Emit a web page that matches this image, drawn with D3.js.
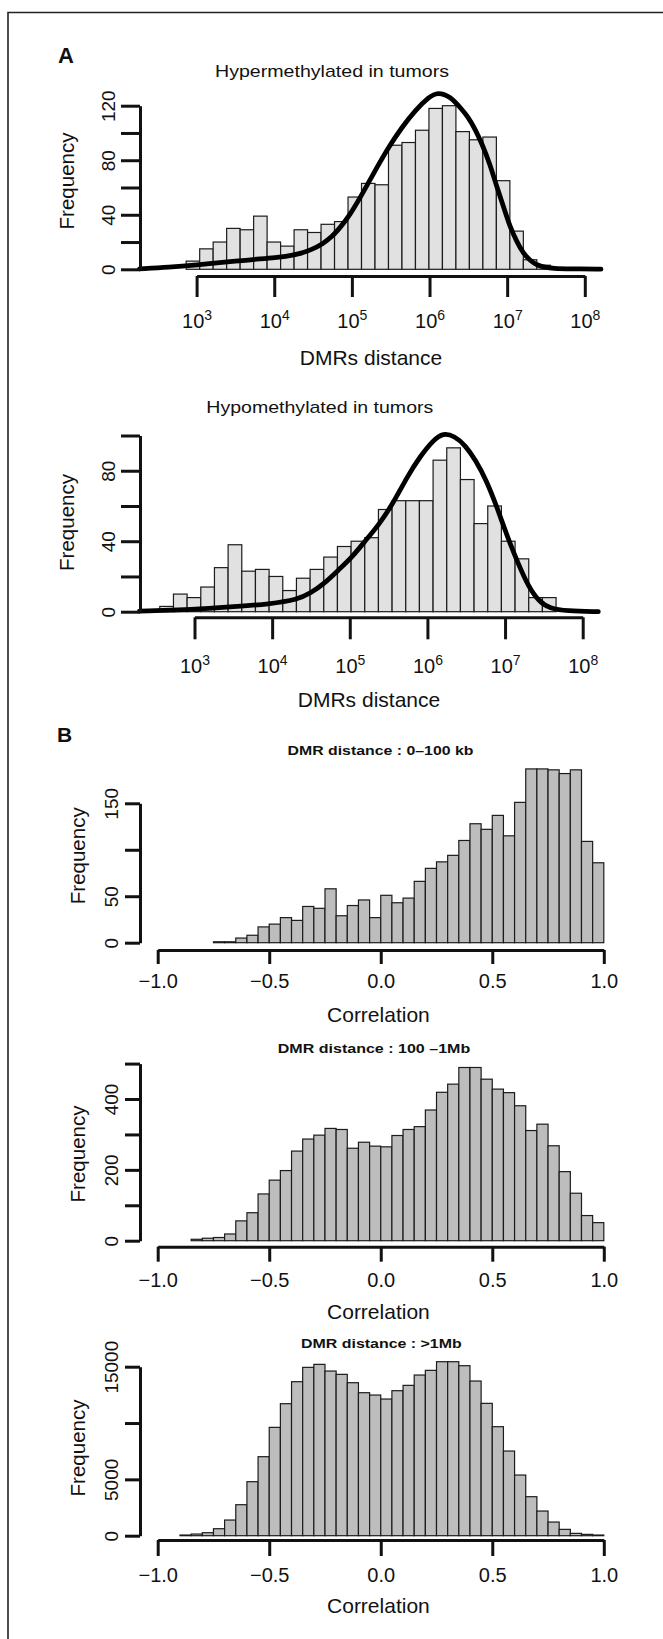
<!DOCTYPE html>
<html>
<head>
<meta charset="utf-8">
<script src="https://cdn.jsdelivr.net/npm/d3@7"></script>
<style>
  body { margin: 0; background: #fff; }
  text { font-family: "Liberation Sans", Arial, Helvetica, sans-serif; fill: #111; }
</style>
</head>
<body>
<script>
// ---- panel A : DMR distance histograms (x in log10 bp) ----
let hyperBinStart = 2.866;   // first break, log10
let hyperBinWidth = 0.1737;
let hyperCounts = [6, 15, 20, 30, 29, 39, 20, 17, 29, 27, 33, 35, 53, 63, 62, 91, 93, 102, 118, 120, 101, 95, 97, 65, 28, 7, 3];
let hyperCurveX = [2.265, 2.645, 3.0, 3.408, 3.735, 4.007, 4.28, 4.471, 4.634, 4.744, 4.825, 4.967, 5.151, 5.315, 5.478, 5.642, 5.821, 5.996, 6.104, 6.264, 6.405, 6.495, 6.586, 6.676, 6.779, 6.869, 6.959, 7.037, 7.127, 7.204, 7.294, 7.384, 7.487, 7.59, 7.809, 8.208];
let hyperCurveY = [0.3, 1.5, 3.2, 5.5, 7.3, 8.3, 10.5, 14, 19, 24, 29, 39, 57, 74, 90, 104, 117, 126.5, 130, 127, 118, 112, 103, 92, 77, 60, 45, 31, 20, 12, 6.5, 3, 1.4, 0.7, 0.3, 0.1];

let hypoBinStart = 2.553;
let hypoBinWidth = 0.176;
let hypoCounts = [3, 10, 8, 14, 25, 38, 23, 24, 20, 12, 19, 24, 31, 37, 40, 42, 58, 63, 63, 63, 86, 93, 75, 50, 60, 40, 30, 8, 8];
let hypoCurveX = [2.292, 3.0, 3.436, 3.981, 4.324, 4.498, 4.672, 4.852, 5.031, 5.195, 5.369, 5.559, 5.739, 5.903, 6.077, 6.202, 6.349, 6.485, 6.622, 6.758, 6.894, 7.03, 7.167, 7.302, 7.438, 7.575, 7.792, 8.201];
let hypoCurveY = [0.3, 1.3, 2.6, 4.4, 6.8, 10.6, 16, 23.6, 31, 40, 49, 61.5, 76.6, 88, 97.4, 101.5, 99.7, 94.6, 86, 74.7, 59.6, 42.5, 27.4, 14.2, 5.7, 1.9, 0.4, 0];

let logTicks = [3, 4, 5, 6, 7, 8];

// ---- panel B : correlation histograms, bin width 0.05 ----
let corrBinWidth = 0.05;
let near0Start = -0.75;
let near0Counts = [1, 1, 5, 8, 17, 20, 27, 24, 39, 37, 58, 29, 40, 46, 27, 51, 43, 48, 66, 80, 87, 94, 110, 128, 122, 137, 115, 151, 187, 187, 186, 182, 186, 109, 86];
let midStart = -0.85;
let midCounts = [4, 7, 9, 19, 56, 79, 132, 171, 198, 253, 287, 298, 317, 314, 261, 278, 267, 265, 297, 314, 322, 369, 419, 442, 489, 489, 456, 428, 418, 381, 311, 329, 268, 195, 134, 71, 51];
let farStart = -0.90;
let farCounts = [59, 148, 266, 621, 1390, 2751, 4793, 7012, 9615, 11716, 13669, 14941, 15207, 14615, 14320, 13580, 12692, 12485, 12130, 12870, 13343, 14260, 14675, 15444, 15444, 15089, 13728, 11746, 9675, 7515, 5385, 3462, 2189, 1213, 562, 207, 118, 59];
let corrTicks = [-1, -0.5, 0, 0.5, 1];

let width = 663, height = 1639;
let svg = d3.select("body").append("svg")
  .attr("width", width).attr("height", height);
svg.append("rect").attr("width", width).attr("height", height).attr("fill", "#fff");

// frame (only top and left edges are visible)
svg.append("path")
  .attr("d", "M8,1639V12.5H663")
  .attr("fill", "none").attr("stroke", "#222").attr("stroke-width", 1.6);

svg.append("text").text("A").attr("x", 58).attr("y", 62.7)
  .style("font-size", "22px").style("font-weight", "bold");
svg.append("text").text("B").attr("x", 57).attr("y", 741.7)
  .style("font-size", "21px").style("font-weight", "bold");

function styleAxis(a, fs) {
  a.attr("font-family", null).attr("font-size", null);
  a.select(".domain").attr("stroke", "#111").attr("stroke-width", 3);
  a.selectAll(".tick line").attr("stroke", "#111").attr("stroke-width", 3);
  a.selectAll(".tick text").style("font-size", fs + "px");
}

function drawBars(g, counts, start, bw, x, y, fill) {
  g.append("g").selectAll("rect")
    .data(counts).enter().append("rect")
      .attr("x", (d, i) => x(start + i * bw))
      .attr("width", x(start + bw) - x(start))
      .attr("y", d => y(d))
      .attr("height", d => y(0) - y(d))
      .attr("fill", fill)
      .attr("stroke", "#1c1c1c")
      .attr("stroke-width", 1.2);
}

function yAxisRot(g, y, p) {
  let ax = d3.axisLeft(y).tickValues(p.yTicks).tickSize(p.yTickLen).tickSizeOuter(0)
    .tickFormat(d => p.yLabels.includes(d) ? d : "");
  let ya = g.append("g").attr("transform", `translate(${p.axisX},0)`).call(ax);
  styleAxis(ya, 19);
  ya.selectAll(".tick text")
    .attr("x", null).attr("dy", null)
    .attr("text-anchor", "middle")
    .attr("transform", `translate(${p.yLabelX - p.axisX},0) rotate(-90)`);
  g.append("text").text("Frequency")
    .attr("text-anchor", "middle")
    .attr("transform", `translate(${p.freqX},${p.freqY}) rotate(-90)`)
    .style("font-size", "20.5px");
}

function logPanel(p) {
  let x = d3.scaleLinear().domain([3, 8]).range([p.x3, p.x8]);
  let y = d3.scaleLinear().domain([0, p.yMax]).range([p.y0, p.yTop]);
  let g = svg.append("g");

  drawBars(g, p.counts, p.binStart, p.binWidth, x, y, "#e1e1e1");

  let line = d3.line().x(d => x(d[0])).y(d => y(d[1])).curve(d3.curveBasis);
  g.append("path").datum(d3.zip(p.curveX, p.curveY))
    .attr("d", line)
    .attr("fill", "none").attr("stroke", "#000")
    .attr("stroke-width", 4.8).attr("stroke-linejoin", "round").attr("stroke-linecap", "round");

  yAxisRot(g, y, p);

  let xa = g.append("g").attr("transform", `translate(0,${p.xAxisY})`)
    .call(d3.axisBottom(x).tickValues(logTicks).tickSize(p.xTickLen).tickSizeOuter(0));
  styleAxis(xa, 20);
  xa.selectAll(".tick text")
    .attr("dy", null).attr("y", p.xLabelBase - p.xAxisY)
    .text(null)
    .each(function(d) {
      let t = d3.select(this);
      t.append("tspan").text("10");
      t.append("tspan").attr("dy", -8).style("font-size", "14px").text(d);
    });

  g.append("text").text(p.title)
    .attr("x", p.titleX).attr("y", p.titleY).attr("text-anchor", "middle")
    .attr("textLength", p.titleW).attr("lengthAdjust", "spacingAndGlyphs")
    .style("font-size", "17px");
  g.append("text").text("DMRs distance")
    .attr("x", p.xTitleX).attr("y", p.xTitleY).attr("text-anchor", "middle")
    .style("font-size", "21px");
}

function corrPanel(p) {
  let x = d3.scaleLinear().domain([-1, 1]).range([157.7, 603.8]);
  let y = d3.scaleLinear().domain([0, p.yMax]).range([p.y0, p.yTop]);
  let g = svg.append("g");

  drawBars(g, p.counts, p.binStart, corrBinWidth, x, y, "#bdbdbd");

  yAxisRot(g, y, p);

  let xa = g.append("g").attr("transform", `translate(0,${p.xAxisY})`)
    .call(d3.axisBottom(x).tickValues(corrTicks).tickSize(p.xTickLen).tickSizeOuter(0)
      .tickFormat(d3.format(".1f")));
  styleAxis(xa, 20);
  xa.selectAll(".tick text").attr("dy", null).attr("y", p.xLabelBase - p.xAxisY);

  g.append("text").text(p.title)
    .attr("x", p.titleX).attr("y", p.titleY).attr("text-anchor", "middle")
    .attr("textLength", p.titleW).attr("lengthAdjust", "spacingAndGlyphs")
    .style("font-size", "13px").style("font-weight", "bold");
  g.append("text").text("Correlation")
    .attr("x", 378.4).attr("y", p.xTitleY).attr("text-anchor", "middle")
    .style("font-size", "21px");
}

logPanel({
  title: "Hypermethylated in tumors", titleX: 332, titleY: 77.3, titleW: 234,
  counts: hyperCounts, binStart: hyperBinStart, binWidth: hyperBinWidth,
  curveX: hyperCurveX, curveY: hyperCurveY,
  x3: 196.6, x8: 584.8, y0: 269.3, yTop: 105.7, yMax: 120,
  yTicks: [0, 20, 40, 60, 80, 100, 120], yLabels: [0, 40, 80, 120], yTickLen: 19,
  axisX: 140, yLabelX: 115, freqX: 74, freqY: 181,
  xAxisY: 276, xTickLen: 21, xLabelBase: 328.3, xTitleX: 371, xTitleY: 365
});

logPanel({
  title: "Hypomethylated in tumors", titleX: 319.8, titleY: 413, titleW: 227,
  counts: hypoCounts, binStart: hypoBinStart, binWidth: hypoBinWidth,
  curveX: hypoCurveX, curveY: hypoCurveY,
  x3: 194.5, x8: 582.7, y0: 611.7, yTop: 435.5, yMax: 100,
  yTicks: [0, 20, 40, 60, 80, 100], yLabels: [0, 40, 80], yTickLen: 19,
  axisX: 140, yLabelX: 115, freqX: 74, freqY: 522.5,
  xAxisY: 617.3, xTickLen: 22, xLabelBase: 673, xTitleX: 369, xTitleY: 706.7
});

corrPanel({
  title: "DMR distance : 0\u2013100 kb", titleX: 380.5, titleY: 755, titleW: 186,
  counts: near0Counts, binStart: near0Start,
  y0: 942.7, yTop: 803.3, yMax: 150,
  yTicks: [0, 50, 100, 150], yLabels: [0, 50, 150], yTickLen: 15,
  axisX: 140, yLabelX: 118, freqX: 85, freqY: 855.8,
  xAxisY: 950, xTickLen: 14, xLabelBase: 988, xTitleY: 1021.7
});

corrPanel({
  title: "DMR distance : 100 \u20131Mb", titleX: 374, titleY: 1053.3, titleW: 192.4,
  counts: midCounts, binStart: midStart,
  y0: 1240.7, yTop: 1063.6, yMax: 500,
  yTicks: [0, 100, 200, 300, 400, 500], yLabels: [0, 200, 400], yTickLen: 15,
  axisX: 140, yLabelX: 118, freqX: 85, freqY: 1154,
  xAxisY: 1246.7, xTickLen: 15, xLabelBase: 1286.7, xTitleY: 1319
});

corrPanel({
  title: "DMR distance : >1Mb", titleX: 381.4, titleY: 1347.7, titleW: 160.7,
  counts: farCounts, binStart: farStart,
  y0: 1535.7, yTop: 1366.7, yMax: 15000,
  yTicks: [0, 5000, 10000, 15000], yLabels: [0, 5000, 15000], yTickLen: 15,
  axisX: 140, yLabelX: 118, freqX: 85, freqY: 1448,
  xAxisY: 1540, xTickLen: 16, xLabelBase: 1581.5, xTitleY: 1613.3
});
</script>
</body>
</html>
